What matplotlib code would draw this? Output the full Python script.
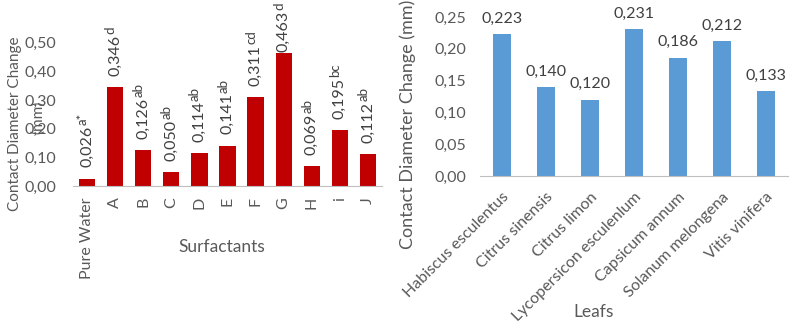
import numpy as np
import matplotlib.pyplot as plt
from matplotlib.ticker import FuncFormatter

plt.rcParams['font.family'] = ['Lato', 'DejaVu Sans']

surfactants = ['Pure Water', 'A', 'B', 'C', 'D', 'E', 'F', 'G', 'H', 'i', 'J']
surf_values = [0.026, 0.346, 0.126, 0.050, 0.114, 0.141, 0.311, 0.463, 0.069, 0.195, 0.112]
surf_groups = ['a*', 'd', 'ab', 'ab', 'ab', 'ab', 'cd', 'd', 'ab', 'bc', 'ab']

leafs = ['Habiscus esculentus', 'Citrus sinensis', 'Citrus limon',
         'Lycopersicon esculenlum', 'Capsicum annum', 'Solanum melongena',
         'Vitis vinifera']
leaf_values = [0.223, 0.140, 0.120, 0.231, 0.186, 0.212, 0.133]

TXT = '#595959'
LBL = '#404040'
comma = FuncFormatter(lambda v, p: f'{v:.2f}'.replace('.', ','))

fig = plt.figure(figsize=(7.93, 3.35), dpi=100)


def style(ax):
    for s in ['top', 'right', 'left']:
        ax.spines[s].set_visible(False)
    ax.spines['bottom'].set_color('#bfbfbf')
    ax.tick_params(length=0, colors=TXT, labelsize=11.5)
    ax.yaxis.set_major_formatter(comma)


# surfactants
ax1 = fig.add_axes([0.092, 0.4448, 0.3897, 0.5132])
x1 = np.arange(len(surfactants))
ax1.bar(x1, surf_values, width=0.58, color='#c00000')
labels = []
for i, (v, g) in enumerate(zip(surf_values, surf_groups)):
    main = ax1.annotate(f'{v:.3f}'.replace('.', ','), (i, v), xytext=(0, 8),
                        textcoords='offset points', rotation=90, ha='center',
                        va='bottom', color=LBL, fontsize=11.5,
                        annotation_clip=False)
    # rotated superscript: raised means shifted towards -x
    sup = ax1.annotate(g, xy=(0.62, 1.0), xycoords=main, xytext=(0, 0.5),
                       textcoords='offset points', rotation=90, ha='right',
                       va='bottom', color=LBL, fontsize=9.5,
                       annotation_clip=False)
    labels.append((main, sup))
ax1.set_xlim(-0.5, len(surfactants) - 0.5)
ax1.set_ylim(0, 0.6)
ax1.set_yticks(np.arange(0, 0.51, 0.1))
ax1.set_xticks(x1)
ax1.set_xticklabels(surfactants, rotation=90)
style(ax1)
ax1.tick_params(axis='y', pad=12)
ax1.tick_params(axis='x', pad=8)
ax1.set_xlabel('Surfactants', color=TXT, fontsize=12.5)
ax1.xaxis.set_label_coords(0.48, -0.355)
ax1.xaxis.label.set_va('center')
fig.text(0.019, 0.63, 'Contact Diameter Change', rotation=90, ha='center',
         va='center', color=TXT, fontsize=11)
fig.text(0.048, 0.65, '(mm)', rotation=90, ha='center', va='center',
         color=TXT, fontsize=11)

# leafs
ax2 = fig.add_axes([0.6053, 0.4746, 0.3884, 0.4746])
x2 = np.arange(len(leafs))
ax2.bar(x2, leaf_values, width=0.41, color='#5b9bd5')
for i, v in enumerate(leaf_values):
    ax2.annotate(f'{v:.3f}'.replace('.', ','), (i, v), xytext=(0, 6),
                 textcoords='offset points', ha='center', va='bottom',
                 color=LBL, fontsize=11.5, annotation_clip=False)
ax2.set_xlim(-0.5, len(leafs) - 0.5)
ax2.set_ylim(0, 0.25)
ax2.set_yticks(np.arange(0, 0.251, 0.05))
ax2.set_xticks(x2)
ax2.set_xticklabels(leafs, rotation=45, ha='right', rotation_mode='anchor')
style(ax2)
ax2.tick_params(axis='y', pad=10)
ax2.tick_params(axis='x', pad=10)
fig.text(594 / 793, 1 - 312 / 335, 'Leafs', ha='center', va='center',
         color=TXT, fontsize=12.5)
fig.text(408 / 793, 1 - 124 / 335, 'Contact Diameter Change (mm)', rotation=90,
         ha='center', va='center', color=TXT, fontsize=13)

# pull down any rotated label that would run past the top edge
fig.canvas.draw()
r = fig.canvas.get_renderer()
top = fig.bbox.height - 4
for main, sup in labels:
    over = sup.get_window_extent(r).y1 - top
    if over > 0:
        dy = main.xyann[1] - over * 72 / fig.dpi
        main.xyann = (0, max(dy, 1))

fig.savefig('out.png', dpi=100)
